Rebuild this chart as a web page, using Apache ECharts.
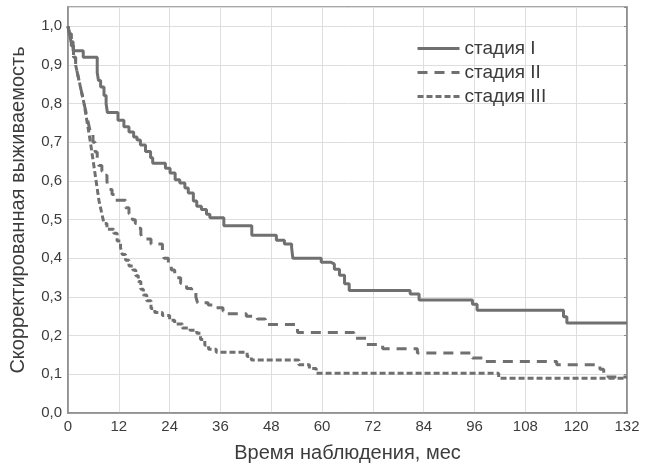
<!DOCTYPE html>
<html>
<head>
<meta charset="utf-8">
<script src="https://cdn.jsdelivr.net/npm/echarts@6/dist/echarts.min.js"></script>
<style>
  html, body { margin: 0; padding: 0; background: #fff; }
  #main { width: 657px; height: 468px; }
</style>
</head>
<body>
<div id="main"></div>
<script>
// стадия I
var time1 = [0, 0.3, 0.7, 1.2, 3.6, 6.9, 7.2, 7.7, 8.5, 9.0, 9.3, 11.8, 13.2, 14.4, 15.5, 16.3, 17.1, 18.3, 19.5, 20.0,
  23.0, 24.1, 25.3, 26.4, 27.6, 28.4, 29.6, 30.4, 31.5, 32.7, 33.5, 36.8, 43.4, 49.2, 51.1, 52.8, 53.1, 59.8, 62.1, 62.9,
  64.1, 65.3, 66.4, 80.8, 82.9, 95.5, 96.6, 117.0, 117.8, 132];
var surv1 = [1.0, 0.985, 0.96, 0.937, 0.92, 0.88, 0.86, 0.843, 0.821, 0.80, 0.777, 0.757, 0.74, 0.727, 0.714, 0.706, 0.693, 0.676, 0.66, 0.646,
  0.633, 0.621, 0.603, 0.595, 0.582, 0.569, 0.548, 0.535, 0.526, 0.514, 0.505, 0.484, 0.46, 0.447, 0.437, 0.428, 0.40, 0.39, 0.385, 0.372,
  0.356, 0.334, 0.317, 0.308, 0.292, 0.281, 0.266, 0.249, 0.233, 0.233];

// стадия II
var time2 = [0, 0.3, 0.8, 1.3, 1.8, 2.2, 2.6, 3.0, 3.4, 3.8, 4.2, 4.6, 5.0, 5.4, 5.9, 6.4, 6.9, 7.3, 8.0, 8.5, 9.2, 9.6, 10.4, 11.2,
  13.6, 14.4, 15.2, 15.9, 16.7, 17.2, 17.6, 19.6, 22.3, 22.7, 23.7, 24.4, 25.2, 26.6, 28.0, 29.2, 30.2, 30.6, 33.1, 35.0, 36.6, 37.2,
  42.1, 44.7, 46.6, 54.2, 67.5, 70.4, 74.3, 82.5, 95.5, 98.0, 115.4, 125.6, 126.5, 127.5, 132];
var surv2 = [1.0, 0.98, 0.95, 0.92, 0.90, 0.88, 0.86, 0.84, 0.82, 0.80, 0.78, 0.76, 0.74, 0.72, 0.70, 0.675, 0.655, 0.64, 0.625, 0.615, 0.598, 0.578, 0.565, 0.55,
  0.531, 0.515, 0.50, 0.49, 0.478, 0.462, 0.45, 0.437, 0.42, 0.40, 0.383, 0.37, 0.35, 0.335, 0.322, 0.313, 0.30, 0.285, 0.279, 0.272, 0.264, 0.257,
  0.25, 0.243, 0.229, 0.208, 0.193, 0.177, 0.166, 0.155, 0.142, 0.133, 0.125, 0.113, 0.10, 0.093, 0.093];

// стадия III
var time3 = [0, 0.3, 0.8, 1.3, 1.8, 2.2, 2.6, 3.0, 3.4, 3.8, 4.1, 4.4, 4.7, 5.0, 5.3, 5.7, 6.1, 6.5, 6.9, 7.3, 7.7, 8.1, 8.5, 9.2,
  10.8, 11.6, 12.4, 12.8, 13.6, 14.4, 15.3, 16.0, 16.6, 17.2, 17.8, 18.6, 19.6, 20.5, 22.3, 24.0, 25.2, 27.0, 28.8, 30.4, 31.3, 32.3,
  33.2, 35.0, 42.3, 43.3, 54.5, 57.0, 58.6, 101.7, 132];
var surv3 = [1.0, 0.98, 0.95, 0.92, 0.90, 0.88, 0.86, 0.84, 0.82, 0.80, 0.78, 0.76, 0.74, 0.72, 0.70, 0.67, 0.64, 0.61, 0.58, 0.55, 0.53, 0.51, 0.49, 0.475,
  0.465, 0.445, 0.428, 0.41, 0.395, 0.38, 0.37, 0.355, 0.34, 0.32, 0.305, 0.29, 0.27, 0.26, 0.252, 0.24, 0.23, 0.22, 0.214, 0.206, 0.19, 0.175,
  0.165, 0.157, 0.146, 0.137, 0.125, 0.115, 0.103, 0.09, 0.09];

var xTicks = [0, 12, 24, 36, 48, 60, 72, 84, 96, 108, 120, 132];
var names = ['стадия I', 'стадия II', 'стадия III'];

function pairs (t, s) {
  return t.map(function (v, i) { return [v, s[i]]; });
}

var lineColor = '#707070';
var textColor = '#3c3c3c';
var font = "'Liberation Sans', Arial, sans-serif";

var myChart = echarts.init(document.getElementById('main'));

var option = {
  animation: false,
  grid: {
    left: 66,
    right: 30,
    top: 7,
    bottom: 52,
    show: true,
    borderColor: '#8a8a8a',
    borderWidth: 1.5
  },
  legend: {
    orient: 'vertical',
    left: 416,
    top: 39,
    padding: 0,
    itemWidth: 42,
    itemHeight: 14,
    itemGap: 5,
    data: names,
    itemStyle: { opacity: 0 },
    lineStyle: { width: 3 },
    textStyle: { fontSize: 19, color: textColor, fontFamily: font }
  },
  xAxis: {
    type: 'value',
    min: 0,
    max: 132,
    interval: 12,
    name: 'Время наблюдения, мес',
    nameLocation: 'middle',
    nameGap: 30,
    nameTextStyle: { fontSize: 20, color: textColor, fontFamily: font },
    axisLine: { lineStyle: { color: '#8a8a8a', width: 1.5 } },
    axisTick: { show: false },
    axisLabel: {
      color: textColor,
      fontSize: 15,
      fontFamily: font,
      margin: 6,
      formatter: function (v) { return xTicks.indexOf(v) >= 0 ? String(v) : ''; }
    },
    splitLine: { lineStyle: { color: '#dedede', width: 1 } }
  },
  yAxis: [
    {
      type: 'value',
      min: 0,
      max: 1.05,
      interval: 0.1,
      name: 'Скорректированная выживаемость',
      nameLocation: 'middle',
      nameGap: 40,
      nameTextStyle: { fontSize: 20, color: textColor, fontFamily: font },
      axisLine: { show: true, lineStyle: { color: '#8a8a8a', width: 1.5 } },
      axisTick: { show: false },
      axisLabel: {
        color: textColor,
        fontSize: 15,
        fontFamily: font,
        margin: 6,
        showMaxLabel: false,
        formatter: function (v) { return v.toFixed(1).replace('.', ','); }
      },
      splitLine: { lineStyle: { color: '#dedede', width: 1 } }
    },
    {
      type: 'value',
      position: 'right',
      min: 0,
      max: 1.05,
      interval: 0.1,
      axisLine: { show: true, lineStyle: { color: '#8a8a8a', width: 1.5 } },
      axisTick: { show: true, inside: true, length: 3, lineStyle: { color: '#8a8a8a' } },
      axisLabel: { show: false },
      splitLine: { show: false }
    }
  ],
  series: [
    {
      name: names[0],
      type: 'line',
      step: 'end',
      symbol: 'none',
      data: pairs(time1, surv1),
      lineStyle: { color: lineColor, width: 3, type: 'solid' },
      itemStyle: { color: lineColor }
    },
    {
      name: names[1],
      type: 'line',
      step: 'end',
      symbol: 'none',
      data: pairs(time2, surv2),
      lineStyle: { color: lineColor, width: 3, type: [10, 7] },
      itemStyle: { color: lineColor }
    },
    {
      name: names[2],
      type: 'line',
      step: 'end',
      symbol: 'none',
      data: pairs(time3, surv3),
      lineStyle: { color: lineColor, width: 3, type: [6, 3] },
      itemStyle: { color: lineColor }
    }
  ]
};

myChart.setOption(option);
</script>
</body>
</html>
